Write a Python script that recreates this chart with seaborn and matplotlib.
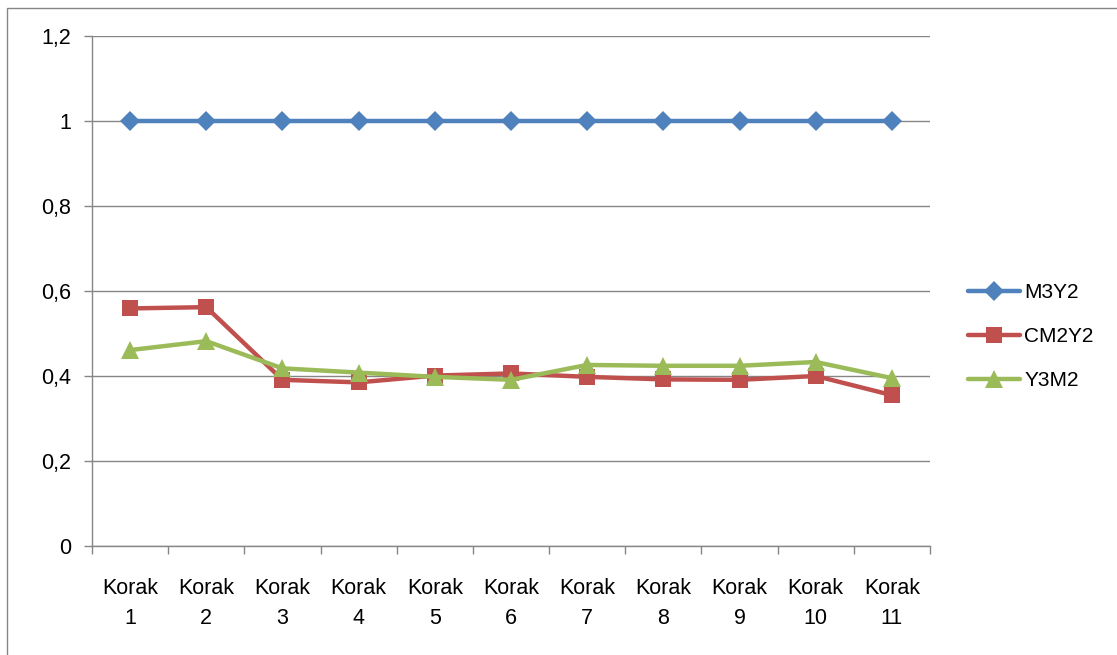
import matplotlib
matplotlib.use("Agg")
import matplotlib.pyplot as plt
import seaborn as sns
import pandas as pd
import numpy as np
from matplotlib.patches import Rectangle
from matplotlib.lines import Line2D

categories = [f"Korak\n{i}" for i in range(1, 12)]
m3y2 = [1, 1, 1, 1, 1, 1, 1, 1, 1, 1, 1]
cm2y2 = [0.559, 0.562, 0.391, 0.385, 0.401, 0.406, 0.398, 0.392, 0.391, 0.400, 0.355]
y3m2 = [0.461, 0.482, 0.418, 0.408, 0.398, 0.391, 0.426, 0.424, 0.424, 0.433, 0.395]
series_names = ["M3Y2", "CM2Y2", "Y3M2"]
y_ticks = [0, 0.2, 0.4, 0.6, 0.8, 1.0, 1.2]
y_labels = ["0", "0,2", "0,4", "0,6", "0,8", "1", "1,2"]

sns.set_style("white")
plt.rcParams['font.family'] = ['Liberation Sans', 'DejaVu Sans']
plt.rcParams['text.color'] = 'black'

rows = []
for name, vals in zip(series_names, [m3y2, cm2y2, y3m2]):
    for i, v in enumerate(vals):
        rows.append({"pos": i, "value": v, "series": name})
df = pd.DataFrame(rows)

palette = {"M3Y2": "#4F81BD", "CM2Y2": "#C0504D", "Y3M2": "#9BBB59"}
markers = {"M3Y2": "D", "CM2Y2": "s", "Y3M2": "^"}
msizes = {"M3Y2": 10.5, "CM2Y2": 12, "Y3M2": 13}

fig = plt.figure(figsize=(11.17, 6.55), dpi=100)
W, H = 1117, 655
ax = fig.add_axes([92 / W, 1 - 546 / H, (930 - 92) / W, (546 - 36) / H])

sns.lineplot(data=df, x="pos", y="value", hue="series", style="series",
             palette=palette, markers=markers, dashes=False, linewidth=3.2,
             markersize=12, markeredgewidth=0, ax=ax, legend=False, sort=False)
for line, name in zip(ax.get_lines(), series_names):
    line.set_markersize(msizes[name])

ax.set_xlim(-0.5, 10.5)
ax.set_ylim(0, 1.2)
ax.set_yticks(y_ticks)
ax.set_yticklabels(y_labels, fontsize=15.5)
ax.set_xticks(range(11))
ax.set_xticklabels(categories, fontsize=15.5, linespacing=1.55)
ax.set_xticks(np.arange(-0.5, 11, 1), minor=True)
ax.tick_params(axis="x", which="major", length=0, pad=23, bottom=True, labelcolor="black")
ax.tick_params(axis="x", which="minor", length=6, width=1, color="#868686",
               direction="out", bottom=True)
ax.tick_params(axis="y", length=6, width=1, color="#868686", direction="out",
               pad=9, left=True, labelcolor="black")
ax.set_xlabel("")
ax.set_ylabel("")
ax.grid(axis="y", color="#868686", linewidth=1)
ax.set_axisbelow(True)
for s in ["top", "right"]:
    ax.spines[s].set_visible(False)
for s in ["left", "bottom"]:
    ax.spines[s].set_color("#868686")
    ax.spines[s].set_linewidth(1)

handles = [Line2D([0], [0], color=palette[n], marker=markers[n], lw=3.2,
                  markersize=msizes[n], markeredgewidth=0) for n in series_names]
fig.legend(handles, series_names, loc="upper left",
           bbox_to_anchor=(968 / W, 1 - 283 / H), frameon=False, fontsize=15,
           handlelength=2.5, labelspacing=1.2, handletextpad=0.2,
           borderpad=0, borderaxespad=0, labelcolor="black")

fig.patches.append(Rectangle((7 / W, -0.01), 1.02, 1 - 8 / H + 0.01, transform=fig.transFigure,
                             fill=False, edgecolor="#868686", linewidth=1))

fig.savefig("out.png", dpi=100)
